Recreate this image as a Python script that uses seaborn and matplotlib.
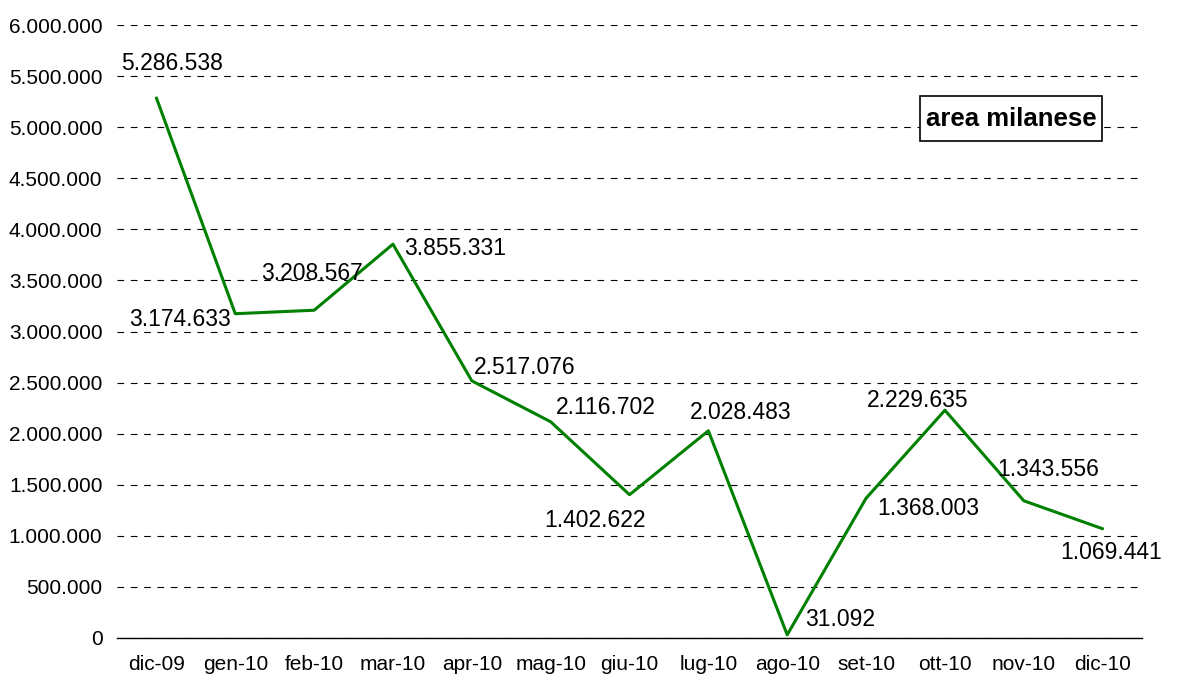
import matplotlib
matplotlib.use("Agg")
import matplotlib.pyplot as plt
import seaborn as sns
import pandas as pd
from matplotlib.ticker import FuncFormatter, FixedLocator
from matplotlib.patches import Rectangle

# Monthly values, area milanese
months = ['dic-09', 'gen-10', 'feb-10', 'mar-10', 'apr-10', 'mag-10', 'giu-10',
          'lug-10', 'ago-10', 'set-10', 'ott-10', 'nov-10', 'dic-10']
values = [5286538, 3174633, 3208567, 3855331, 2517076, 2116702, 1402622,
          2028483, 31092, 1368003, 2229635, 1343556, 1069441]

# label offsets in pixels (dx, dy) relative to each point
label_offsets = [(16, 34), (-55, -6), (-2, 37), (62, -4), (53, 13), (55, 14), (-35, -26),
                 (32, 18), (53, 15), (62, -10), (-27, 10), (24, 31), (9, -24)]


def it_fmt(v, pos=None):
    return f"{v:,.0f}".replace(",", ".")


def main():
    sns.set_style("white")
    plt.rcParams['font.family'] = ['Liberation Sans', 'DejaVu Sans']
    plt.rcParams['text.color'] = 'black'
    plt.rcParams['xtick.color'] = 'black'
    plt.rcParams['ytick.color'] = 'black'

    df = pd.DataFrame({'mese': months, 'valore': values})

    fig = plt.figure(figsize=(11.89, 6.78), dpi=100)
    ax = fig.add_axes([0.0984, 0.059, 0.8621, 0.904])

    sns.lineplot(data=df, x='mese', y='valore', color='#008000', linewidth=2.2,
                 sort=False, ax=ax)

    ax.set_xlim(-0.5, len(months) - 0.5)
    ax.set_ylim(0, 6000000)
    ax.set_yticks(range(0, 6000001, 500000))
    ax.yaxis.set_major_formatter(FuncFormatter(it_fmt))
    ax.grid(axis='y', color='black', linestyle=(0, (6, 6)), linewidth=0.8)
    ax.set_axisbelow(True)

    for s in ['top', 'right', 'left']:
        ax.spines[s].set_visible(False)
    ax.spines['bottom'].set_linewidth(1.0)
    ax.spines['bottom'].set_color('black')

    ax.set_xticks(range(len(months)))
    ax.set_xticklabels(months)
    ax.xaxis.set_minor_locator(FixedLocator([i - 0.5 for i in range(len(months) + 1)]))
    ax.tick_params(axis='x', which='major', length=0, pad=12, labelsize=15, labelcolor='black')
    ax.tick_params(axis='x', which='minor', length=6, width=1, color='black', direction='out')
    ax.tick_params(axis='y', length=0, pad=10.5, labelsize=15, labelcolor='black')
    ax.set_xlabel('')
    ax.set_ylabel('')

    for i, (v, (dx, dy)) in enumerate(zip(values, label_offsets)):
        ax.annotate(it_fmt(v), (i, v), xytext=(dx, dy), textcoords='offset pixels',
                    ha='center', va='center', fontsize=16.5, color='black')

    # legend-like title box
    ax.add_patch(Rectangle((0.7834, 0.8108), 0.1776, 0.0734, transform=ax.transAxes,
                           facecolor='white', edgecolor='black', linewidth=1.2, zorder=5))
    ax.text(0.8722, 0.8475, 'area milanese', transform=ax.transAxes, ha='center', va='center',
            fontsize=18.5, fontweight='bold', color='black', zorder=6)

    fig.savefig('out.png', dpi=100)


if __name__ == "__main__":
    main()
